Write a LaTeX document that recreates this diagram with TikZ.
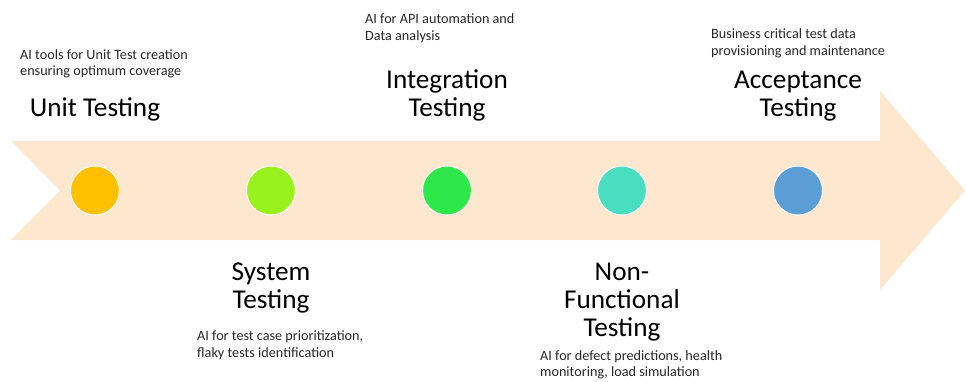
\documentclass[tikz,border=0pt]{standalone}
\usepackage{fontspec}
\setmainfont{Carlito}
\definecolor{band}{RGB}{253,231,206}
\definecolor{cUnit}{RGB}{255,192,0}
\definecolor{cSys}{RGB}{153,242,30}
\definecolor{cInt}{RGB}{46,232,74}
\definecolor{cNF}{RGB}{74,222,192}
\definecolor{cAcc}{RGB}{91,157,213}
\begin{document}
\begin{tikzpicture}[x=1pt,y=-1pt,
  dot/.style={circle,draw=white,line width=1pt,minimum size=49pt,inner sep=0pt},
  head/.style={font=\fontsize{27.2}{28}\selectfont,align=center,anchor=base,inner sep=0pt},
  note/.style={font=\fontsize{14.2}{16.7}\selectfont,align=left,anchor=base west,inner sep=0pt,text=black!85}]
\useasboundingbox (0,0) rectangle (966,381);
\fill[band] (11,141) -- (880,141) -- (880,91) -- (965,190.5) -- (880,290) -- (880,240) -- (11,240) -- (60,190.5) -- cycle;
\node[dot,fill=cUnit] (d1) at (95,190.5) {};
\node[dot,fill=cSys] (d2) at (271,190.5) {};
\node[dot,fill=cInt] (d3) at (447,190.5) {};
\node[dot,fill=cNF] (d4) at (622,190.5) {};
\node[dot,fill=cAcc] (d5) at (798,190.5) {};
\node[head] (h1) at (95,116.7) {Unit Testing};
\node[head] (h2) at (271,308.3) {System\\Testing};
\node[head] (h3) at (447,116.7) {Integration\\Testing};
\node[head] (h4) at (622,336) {Non-\\Functional\\Testing};
\node[head] (h5) at (798,116.7) {Acceptance\\Testing};
\node[note] (n1) at (20,75.7) {AI tools for Unit Test creation\\ensuring optimum coverage};
\node[note] (n2) at (197,357.4) {AI for test case prioritization,\\flaky tests identification};
\node[note] (n3) at (365,40) {AI for API automation and\\Data analysis};
\node[note] (n4) at (540,376.7) {AI for defect predictions, health\\monitoring, load simulation};
\node[note] (n5) at (711,55) {Business critical test data\\provisioning and maintenance};
\end{tikzpicture}
\end{document}
